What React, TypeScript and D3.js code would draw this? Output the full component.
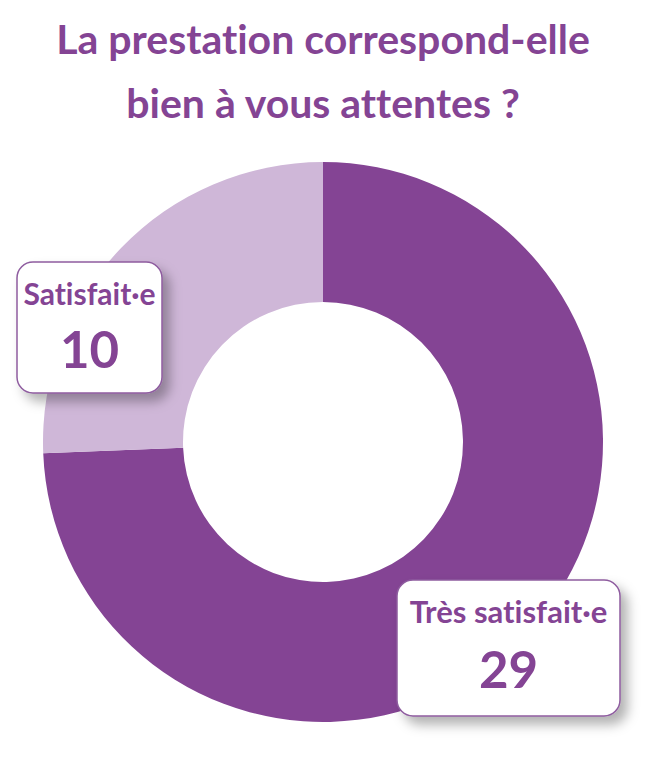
import { useMemo } from "react";
import * as d3 from "d3";

const categories = ["Très satisfait·e", "Satisfait·e"];
const values = [29, 10];
const colors = ["#844494", "#CFB7D8"];
const titleLines = ["La prestation correspond-elle", "bien à vous attentes ?"];

const WIDTH = 665;
const HEIGHT = 761;
const TEXT = "#844494";
const FONT = "Lato, 'Open Sans', sans-serif";

// label boxes placed beside the slices (layout only)
const boxes = [
  { x: 397, y: 580, w: 223, h: 136, label: 31, num: 108 },
  { x: 17, y: 262, w: 145, h: 131, label: 30, num: 106 },
];

export default function App() {
  const cx = 323;
  const cy = 442;
  const outer = 280;
  const inner = 140;

  const arcs = useMemo(() => {
    const pie = d3
      .pie<number>()
      .value((d) => d)
      .sort(null);
    return pie(values);
  }, []);

  const arc = d3.arc<d3.PieArcDatum<number>>().innerRadius(inner).outerRadius(outer);

  return (
    <svg
      width={WIDTH}
      height={HEIGHT}
      style={{ position: "absolute", left: 0, top: 0, background: "#fff", fontVariantLigatures: "none" }}
    >
      <defs>
        <filter id="shadow" x="-30%" y="-30%" width="160%" height="160%">
          <feDropShadow dx="7" dy="8" stdDeviation="6" floodColor="#000" floodOpacity="0.3" />
        </filter>
      </defs>

      {titleLines.map((t, i) => (
        <text
          key={i}
          x={cx}
          y={54 + i * 64}
          textAnchor="middle"
          fill={TEXT}
          fontFamily={FONT}
          fontWeight={700}
          fontSize={41}
        >
          {t}
        </text>
      ))}

      <g transform={`translate(${cx},${cy})`}>
        {arcs.map((a, i) => (
          <path key={i} d={arc(a) || ""} fill={colors[i]} />
        ))}
      </g>

      {arcs.map((a, i) => {
        const b = boxes[i];
        const mx = b.x + b.w / 2;
        return (
          <g key={i}>
            <rect
              x={b.x}
              y={b.y}
              width={b.w}
              height={b.h}
              rx={16}
              fill="#fff"
              stroke="#8e5c9f"
              strokeWidth={1.5}
              filter="url(#shadow)"
            />
            <text
              x={mx}
              y={b.y + 43}
              textAnchor="middle"
              fill={TEXT}
              fontFamily={FONT}
              fontWeight={700}
              fontSize={b.label}
            >
              {categories[i]}
            </text>
            <text
              x={mx}
              y={b.y + b.num}
              textAnchor="middle"
              fill={TEXT}
              fontFamily={FONT}
              fontWeight={700}
              fontSize={51}
            >
              {a.data}
            </text>
          </g>
        );
      })}
    </svg>
  );
}
